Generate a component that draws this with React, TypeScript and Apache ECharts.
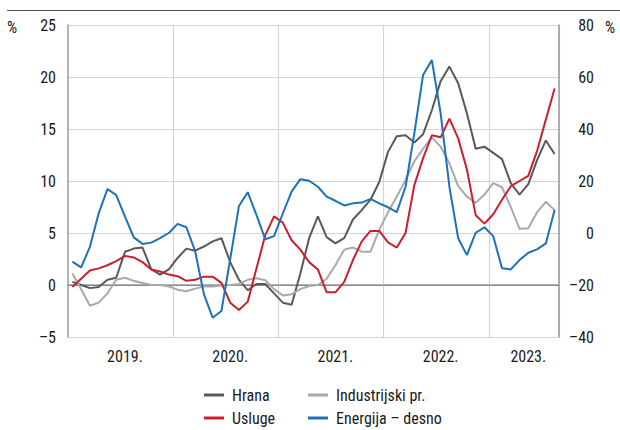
import React, { useEffect, useRef } from 'react';
import * as echarts from 'echarts';

const months = [
  '2019-01','2019-02','2019-03','2019-04','2019-05','2019-06','2019-07','2019-08','2019-09','2019-10','2019-11','2019-12',
  '2020-01','2020-02','2020-03','2020-04','2020-05','2020-06','2020-07','2020-08','2020-09','2020-10','2020-11','2020-12',
  '2021-01','2021-02','2021-03','2021-04','2021-05','2021-06','2021-07','2021-08','2021-09','2021-10','2021-11','2021-12',
  '2022-01','2022-02','2022-03','2022-04','2022-05','2022-06','2022-07','2022-08','2022-09','2022-10','2022-11','2022-12',
  '2023-01','2023-02','2023-03','2023-04','2023-05','2023-06','2023-07','2023-08',
];
const yearLabelMonths = ['2019-07', '2020-07', '2021-07', '2022-07', '2023-05'];
const yearLabels = ['2019.', '2020.', '2021.', '2022.', '2023.'];

const hrana = [
  0.3, 0.0, -0.3, -0.2, 0.5, 0.7, 3.2, 3.5, 3.6, 1.5, 1.0, 1.5,
  2.6, 3.5, 3.3, 3.7, 4.2, 4.5, 2.2, 0.5, -0.5, 0.1, 0.1, -0.8,
  -1.7, -1.9, 1.1, 4.5, 6.6, 4.6, 4.0, 4.5, 6.3, 7.2, 8.2, 9.9,
  12.8, 14.3, 14.4, 13.7, 14.5, 16.8, 19.6, 21.0, 19.4, 16.5, 13.1, 13.3,
  12.7, 12.1, 9.8, 8.7, 9.7, 12.0, 13.9, 12.6,
];
const industrijski = [
  1.1, -0.4, -2.0, -1.7, -0.8, 0.5, 0.7, 0.4, 0.2, 0.0, 0.0, -0.15,
  -0.45, -0.6, -0.35, -0.15, -0.15, -0.05, 0.0, 0.1, 0.5, 0.65, 0.45, -0.4,
  -1.0, -0.9, -0.4, -0.1, 0.0, 0.6, 1.9, 3.4, 3.6, 3.2, 3.2, 5.3,
  7.0, 8.5, 10.1, 11.9, 13.1, 14.2, 13.3, 11.7, 9.5, 8.5, 7.9, 8.7,
  9.8, 9.4, 7.5, 5.4, 5.45, 7.0, 8.0, 7.2,
];
const usluge = [
  -0.2, 0.6, 1.4, 1.6, 1.9, 2.3, 2.8, 2.65, 2.2, 1.5, 1.3, 1.0,
  0.85, 0.4, 0.5, 0.8, 0.8, 0.2, -1.7, -2.4, -1.6, 1.6, 4.8, 6.6,
  6.0, 4.3, 3.4, 2.2, 1.5, -0.7, -0.7, 0.3, 2.4, 4.2, 5.2, 5.2,
  4.1, 3.6, 5.0, 9.6, 12.2, 14.4, 14.2, 16.0, 14.1, 11.1, 6.7, 5.9,
  6.8, 8.2, 9.5, 10.0, 10.5, 12.9, 15.9, 18.9,
];
const energija = [
  -11, -13.2, -5.3, 7.6, 16.9, 14.6, 6.3, -1.7, -4.2, -3.7, -2.0, 0,
  3.5, 2.2, -7, -23.5, -32.6, -30, -10, 10.4, 15.7, 6.9, -2.4, -1.2,
  7.5, 15.9, 20.7, 20.1, 17.8, 14.0, 12.4, 10.6, 11.4, 11.7, 13.1, 11.4,
  9.9, 8.0, 17.8, 38.3, 60.8, 66.5, 46, 17.8, -2, -8.5, 0.1, 2.2,
  -1.2, -13.6, -14, -10.4, -7.6, -6.3, -4.0, 8.8,
];

const seriesNames = ['Hrana', 'Industrijski pr.', 'Usluge', 'Energija – desno'];
const seriesColors = ['#58595b', '#a7a9ac', '#c8202f', '#1d71b8'];

const F = '"Liberation Sans Narrow", "Arial Narrow", "Roboto Condensed", "Liberation Sans", sans-serif';
const TXT = '#1a1a1a';
const FS = 16;
const fmt = (v: number) => (v < 0 ? '\u2013' + Math.abs(v) : String(v));

export default function App() {
  const ref = useRef<HTMLDivElement>(null);
  useEffect(() => {
    if (!ref.current) return;
    const chart = echarts.init(ref.current, undefined, { renderer: 'svg' });
    const legendPos = [
      { left: 204, top: 387 },
      { left: 308, top: 387 },
      { left: 204, top: 410 },
      { left: 308, top: 410 },
    ];
    const order = [0, 1, 2, 3];
    chart.setOption({
      animation: false,
      backgroundColor: '#ffffff',
      textStyle: { fontFamily: F },
      grid: { left: 68, right: 61, top: 25, bottom: 93, containLabel: false },
      graphic: [
        { type: 'line', shape: { x1: 7, y1: 10.5, x2: 620, y2: 10.5 }, style: { stroke: '#555555', lineWidth: 1.2 } },
        { type: 'text', x: 7, y: 27, style: { text: '%', fontFamily: F, fontSize: FS, fill: TXT, verticalAlign: 'middle' } },
        { type: 'text', x: 605, y: 27, style: { text: '%', fontFamily: F, fontSize: FS, fill: TXT, verticalAlign: 'middle' } },
      ],
      legend: order.map((k) => ({
        data: [seriesNames[k]],
        left: legendPos[k].left,
        top: legendPos[k].top,
        padding: 0,
        icon: 'rect',
        itemWidth: 20,
        itemHeight: 3,
        selectedMode: false,
        textStyle: { fontFamily: F, fontSize: FS, color: TXT, padding: [0, 0, 0, 3] },
      })),
      xAxis: {
        type: 'category',
        data: months,
        boundaryGap: true,
        axisLine: { show: true, lineStyle: { color: '#9a9a9a', width: 1.5 } },
        axisTick: { show: false },
        axisLabel: {
          interval: (_i: number, v: string) => yearLabelMonths.includes(v),
          formatter: (v: string) => {
            const k = yearLabelMonths.indexOf(v);
            return k >= 0 ? yearLabels[k] : '';
          },
          fontFamily: F,
          fontSize: FS,
          color: TXT,
          margin: 11,
        },
        splitLine: {
          show: true,
          interval: (i: number) => i > 0 && i % 12 === 0,
          lineStyle: { color: '#d4d4d4', width: 1.2 },
        },
      },
      yAxis: [
        {
          type: 'value',
          min: -5,
          max: 25,
          interval: 5,
          axisLine: { show: true, lineStyle: { color: '#9a9a9a', width: 1.5 } },
          axisTick: { show: false },
          axisLabel: { formatter: fmt, fontFamily: F, fontSize: FS, color: TXT, margin: 12 },
          splitLine: {
            show: true,
            lineStyle: { color: ['#d4d4d4', '#555555', '#d4d4d4', '#d4d4d4', '#d4d4d4', '#d4d4d4', '#d4d4d4'], width: 1.2 },
          },
        },
        {
          type: 'value',
          min: -40,
          max: 80,
          interval: 20,
          position: 'right',
          axisLine: { show: true, lineStyle: { color: '#9a9a9a', width: 1.5 } },
          axisTick: { show: false },
          axisLabel: { formatter: fmt, fontFamily: F, fontSize: FS, color: TXT, margin: 35, align: 'right' },
          splitLine: { show: false },
        },
      ],
      series: [
        { name: seriesNames[0], type: 'line', data: hrana, yAxisIndex: 0, showSymbol: false, color: seriesColors[0], lineStyle: { width: 2, color: seriesColors[0] } },
        { name: seriesNames[1], type: 'line', data: industrijski, yAxisIndex: 0, showSymbol: false, color: seriesColors[1], lineStyle: { width: 2, color: seriesColors[1] } },
        { name: seriesNames[2], type: 'line', data: usluge, yAxisIndex: 0, showSymbol: false, color: seriesColors[2], lineStyle: { width: 2, color: seriesColors[2] } },
        { name: seriesNames[3], type: 'line', data: energija, yAxisIndex: 1, showSymbol: false, color: seriesColors[3], lineStyle: { width: 2, color: seriesColors[3] } },
      ],
    });
    return () => chart.dispose();
  }, []);
  return <div ref={ref} style={{ position: 'fixed', left: 0, top: 0, width: 620, height: 430 }} />;
}
